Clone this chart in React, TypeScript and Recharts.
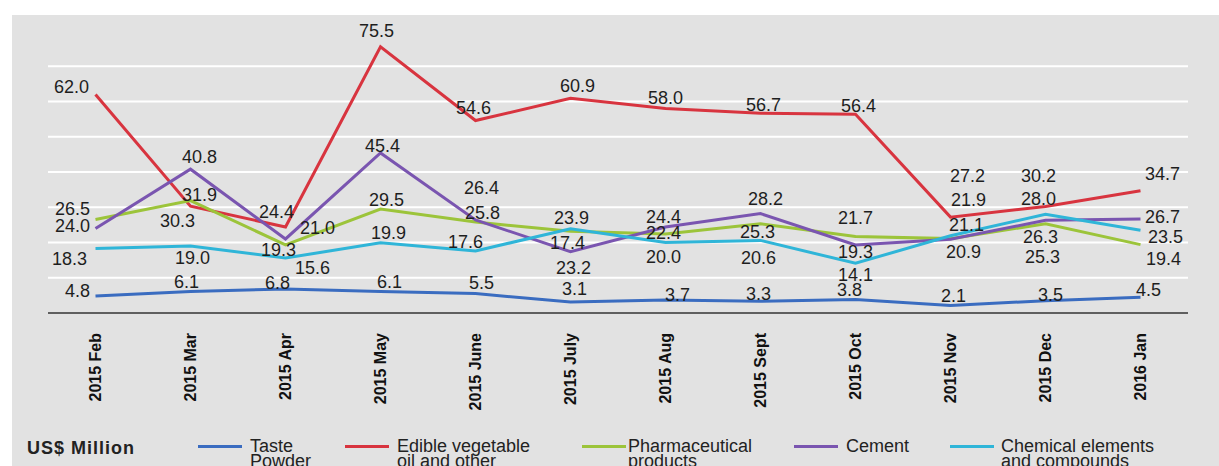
import React from 'react';
import { LineChart, Line, XAxis, YAxis, CartesianGrid, LabelList } from 'recharts';

const months = ['2015 Feb', '2015 Mar', '2015 Apr', '2015 May', '2015 June', '2015 July', '2015 Aug', '2015 Sept', '2015 Oct', '2015 Nov', '2015 Dec', '2016 Jan'];
const tastePowder = [4.8, 6.1, 6.8, 6.1, 5.5, 3.1, 3.7, 3.3, 3.8, 2.1, 3.5, 4.5];
const edibleOil = [62.0, 30.3, 24.4, 75.5, 54.6, 60.9, 58.0, 56.7, 56.4, 27.2, 30.2, 34.7];
const pharmaceutical = [26.5, 31.9, 19.3, 29.5, 25.8, 23.2, 22.4, 25.3, 21.7, 21.1, 25.3, 19.4];
const cement = [24.0, 40.8, 21.0, 45.4, 26.4, 17.4, 24.4, 28.2, 19.3, 20.9, 26.3, 26.7];
const chemical = [18.3, 19.0, 15.6, 19.9, 17.6, 23.9, 20.0, 20.6, 14.1, 21.9, 28.0, 23.5];

const gridValues = [10, 20, 30, 40, 50, 60, 70];
const boundaryTicks = [0, 1, 2, 3, 4, 5, 6, 7, 8, 9, 10, 11, 12];

// label offsets (dx, dy) relative to each point
const tasteOffsets = [[-18, -5], [-4, -9], [-8, -6], [9, -9], [6, -11], [4, -13], [12, -5], [-2, -7], [-6, -10], [3, -10], [5, -6], [8, -7]];
const edibleOffsets = [[-24, -7], [-13, 15], [-9, -15], [-4, -16], [-2, -13], [7, -12], [0, -11], [3, -8], [3, -8], [17, -41], [-7, -31], [22, -17]];
const pharmaOffsets = [[-23, -11], [9, -6], [-7, 5], [6, -9], [7, -9], [3, 37], [-2, -1], [-3, 8], [0, -19], [16, -14], [-3, 33], [23, 14]];
const cementOffsets = [[-23, -2], [9, -12], [32, -11], [2, -7], [6, -32], [-3, -9], [-2, -10], [5, -15], [0, 7], [13, 13], [-5, 17], [22, -2]];
const chemicalOffsets = [[-26, 11], [2, 12], [27, 10], [8, -10], [-10, -9], [1, -11], [-2, 14], [-2, 18], [0, 12], [18, -36], [-7, -15], [25, 7]];

const FONT = '"Liberation Sans", Arial, Helvetica, sans-serif';

const data = months.map((m, i) => ({
  month: m,
  idx: i + 0.5,
  taste: tastePowder[i],
  edible: edibleOil[i],
  pharma: pharmaceutical[i],
  cement: cement[i],
  chemical: chemical[i],
}));

const series = [
  { key: 'taste', label: ['Taste', 'Powder'], color: '#3a6cc0', offsets: tasteOffsets, lineX: 198, textX: 250 },
  { key: 'edible', label: ['Edible vegetable', 'oil and other'], color: '#d8343f', offsets: edibleOffsets, lineX: 345, textX: 397 },
  { key: 'pharma', label: ['Pharmaceutical', 'products'], color: '#9cc43a', offsets: pharmaOffsets, lineX: 582, textX: 628 },
  { key: 'cement', label: ['Cement'], color: '#7a55b0', offsets: cementOffsets, lineX: 794, textX: 846 },
  { key: 'chemical', label: ['Chemical elements', 'and compounds'], color: '#2fb5d8', offsets: chemicalOffsets, lineX: 950, textX: 1001 },
];

const makeLabel = (offsets: number[][]) => (props: any) => {
  const { x, y, value, index } = props;
  const off = offsets[index] || [0, -10];
  return (
    <text
      x={x + off[0]}
      y={y + off[1]}
      textAnchor="middle"
      dominantBaseline="central"
      fontSize={18}
      fill="#1e1e1e"
      fontFamily={FONT}
    >
      {Number(value).toFixed(1)}
    </text>
  );
};

const MonthTick = (props: any) => {
  const { x, y, payload } = props;
  return (
    <text
      x={x}
      y={y}
      transform={`rotate(-90, ${x}, ${y})`}
      textAnchor="end"
      dominantBaseline="central"
      fontSize={16}
      fontWeight="bold"
      fill="#111"
      fontFamily={FONT}
    >
      {payload.value}
    </text>
  );
};

export default function App() {
  return (
    <div style={{ position: 'fixed', left: 0, top: 0, width: 1219, height: 466, background: '#ffffff', overflow: 'hidden' }}>
      <div style={{ position: 'absolute', left: 12, top: 15, right: 0, bottom: 0, background: '#e2e2e2' }} />
      <div style={{ position: 'absolute', left: 0, top: 0 }}>
        <LineChart width={1219} height={466} data={data} margin={{ top: 31, right: 31, left: 48, bottom: 52 }}>
          <CartesianGrid vertical={false} horizontalValues={gridValues} stroke="#ffffff" strokeWidth={2} />
          <YAxis hide type="number" domain={[0, 80]} ticks={gridValues} />
          <XAxis
            xAxisId="b"
            type="number"
            dataKey="idx"
            domain={[0, 12]}
            ticks={boundaryTicks}
            interval={0}
            allowDataOverflow
            height={1}
            tickSize={7}
            axisLine={{ stroke: '#333333', strokeWidth: 1.5 }}
            tickLine={{ stroke: '#333333', strokeWidth: 1.5 }}
            tick={false}
          />
          <XAxis
            xAxisId="c"
            dataKey="month"
            type="category"
            padding={{ left: 47.5, right: 47.5 }}
            height={100}
            axisLine={false}
            tickLine={false}
            tickSize={0}
            tickMargin={19}
            interval={0}
            tick={<MonthTick />}
          />
          {series.map((s) => (
            <Line
              key={s.key}
              xAxisId="c"
              type="linear"
              dataKey={s.key}
              stroke={s.color}
              strokeWidth={3}
              dot={false}
              activeDot={false}
              isAnimationActive={false}
            >
              <LabelList dataKey={s.key} content={makeLabel(s.offsets)} />
            </Line>
          ))}
        </LineChart>
      </div>
      <div style={{ position: 'absolute', left: 27, top: 438, fontFamily: FONT, fontSize: 18, fontWeight: 'bold', letterSpacing: 1, color: '#222', lineHeight: '20px' }}>
        US$ Million
      </div>
      {series.map((s) => (
        <React.Fragment key={s.key}>
          <div style={{ position: 'absolute', left: s.lineX, top: 445, width: 44, height: 2.5, background: s.color }} />
          <div style={{ position: 'absolute', left: s.textX, top: 439, fontFamily: FONT, fontSize: 18, color: '#222', lineHeight: '15px', whiteSpace: 'nowrap' }}>
            {s.label.map((t, i) => (
              <div key={i}>{t}</div>
            ))}
          </div>
        </React.Fragment>
      ))}
    </div>
  );
}
